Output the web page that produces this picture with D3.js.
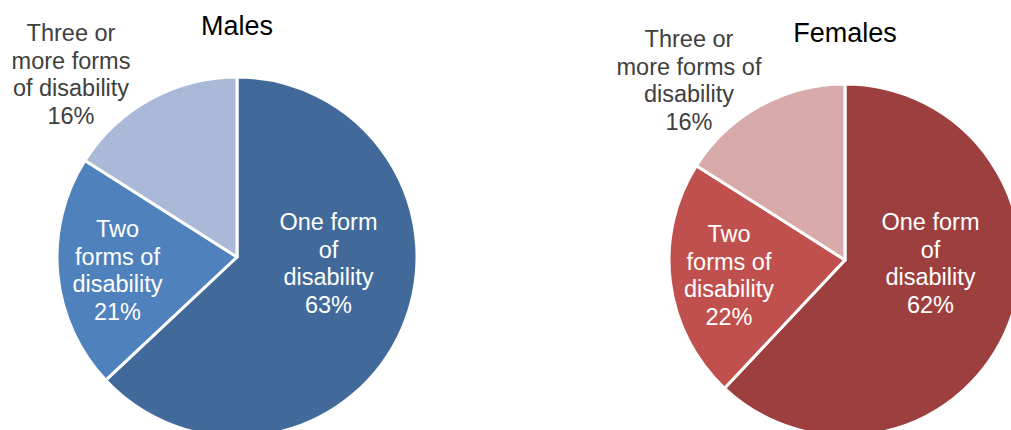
<!DOCTYPE html>
<html><head><meta charset="utf-8">
<script src="https://cdn.jsdelivr.net/npm/d3@7"></script>
<style>
html,body{margin:0;padding:0;background:#fff;overflow:hidden}
svg{display:block;font-family:"Liberation Sans",Arial,sans-serif}
</style></head>
<body>
<svg id="chart" width="1011" height="430"></svg>
<script>
const categories = ["One form of disability", "Two forms of disability", "Three or more forms of disability"];
const malesValues = [63, 21, 16];
const femalesValues = [62, 22, 16];
const malesLabelLines = [["One form", "of", "disability"], ["Two", "forms of", "disability"], ["Three or", "more forms", "of disability"]];
const femalesLabelLines = [["One form", "of", "disability"], ["Two", "forms of", "disability"], ["Three or", "more forms of", "disability"]];
const titles = ["Males", "Females"];

const malesColors = ["#416a9b", "#4f81bd", "#aab9d7"];
const femalesColors = ["#9d3f3f", "#c0504d", "#d9aaaa"];

const svg = d3.select("#chart");

const charts = [
  {title: titles[0], values: malesValues, lines: malesLabelLines, colors: malesColors,
   cx: 237, cy: 257, r: 180, titleX: 237, titleY: 35,
   labels: [{x: 328.5, y: 230, fill: "#fff"}, {x: 117.5, y: 237, fill: "#fff"}, {x: 71, y: 41, fill: "#404040"}]},
  {title: titles[1], values: femalesValues, lines: femalesLabelLines, colors: femalesColors,
   cx: 845, cy: 260, r: 176, titleX: 845, titleY: 42,
   labels: [{x: 930.5, y: 230, fill: "#fff"}, {x: 729, y: 242, fill: "#fff"}, {x: 689, y: 47, fill: "#404040"}]}
];

const pie = d3.pie().sort(null).value(d => d);

charts.forEach(c => {
  const g = svg.append("g").attr("transform", `translate(${c.cx},${c.cy})`);
  const arc = d3.arc().innerRadius(0).outerRadius(c.r);
  const arcs = pie(c.values);
  g.selectAll("path").data(arcs).enter().append("path")
    .attr("d", arc)
    .attr("fill", (d, i) => c.colors[i])
    .attr("stroke", "#fff")
    .attr("stroke-width", 3)
    .attr("stroke-linejoin", "round");

  svg.append("text")
    .attr("x", c.titleX).attr("y", c.titleY)
    .attr("text-anchor", "middle")
    .attr("font-size", 27)
    .attr("fill", "#000")
    .text(c.title);

  arcs.forEach((d, i) => {
    const L = c.labels[i];
    const t = svg.append("text")
      .attr("text-anchor", "middle")
      .attr("font-size", 23.5)
      .attr("fill", L.fill);
    const lines = c.lines[i].concat([c.values[i] + "%"]);
    lines.forEach((ln, k) => {
      t.append("tspan").attr("x", L.x).attr("y", L.y + k * 27.5).text(ln);
    });
  });
});
</script>
</body></html>
